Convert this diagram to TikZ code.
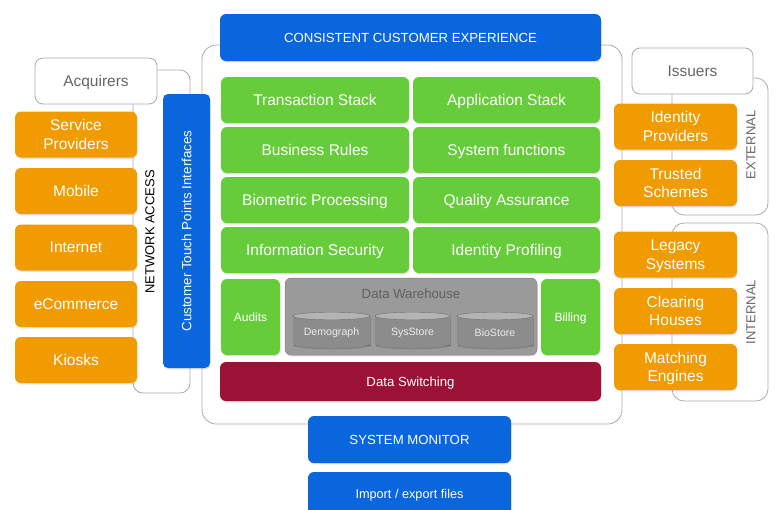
\documentclass[tikz,border=0pt]{standalone}
\usepackage{fontspec}
\setmainfont{Liberation Sans}
\usetikzlibrary{shadows}
\definecolor{grn}{HTML}{66CC3A}
\definecolor{org}{HTML}{F09B00}
\definecolor{blu}{HTML}{0A66DC}
\definecolor{dred}{HTML}{9B1236}
\definecolor{lgray}{HTML}{AAAAAA}
\definecolor{tgray}{HTML}{666666}
\definecolor{whs}{HTML}{9A9A9A}
\definecolor{cylb}{HTML}{8C8C8C}
\definecolor{cylt}{HTML}{B4B4B4}
\begin{document}
\begin{tikzpicture}[x=1pt,y=-1pt,
  shd/.style={drop shadow={shadow xshift=0.6pt,shadow yshift=-1.4pt,opacity=0.22}},
  base/.style={rounded corners=6pt, inner sep=0pt, align=center, text=white, text depth=0pt, shd},
  gbox/.style={base, fill=grn, font=\fontsize{15.5}{17}\selectfont},
  obox/.style={base, fill=org, font=\fontsize{15.5}{18.5}\selectfont, minimum width=122pt, minimum height=46pt},
  bbox/.style={base, fill=blu, font=\fontsize{13.2}{15}\selectfont},
  wbox/.style={rounded corners=8pt, draw=lgray, fill=white, text=tgray, line width=0.8pt, inner sep=0pt, text depth=0pt, font=\fontsize{15.5}{17}\selectfont},
  frm/.style={draw=lgray, line width=0.8pt, rounded corners=14pt, inner sep=0pt},
  vlab/.style={rotate=90, inner sep=0pt, font=\fontsize{13}{15}\selectfont},
  cyllab/.style={inner sep=0pt, text=white!92!black, font=\fontsize{10.6}{12}\selectfont},
]
\useasboundingbox (0,0) rectangle (775,509);

% frames
\node[frm, minimum width=420pt, minimum height=379pt] (outer) at (412,234.5) {};
\node[frm, minimum width=57pt, minimum height=323pt, rounded corners=10pt] (lbr) at (161.5,231.5) {};
\node[frm, minimum width=96pt, minimum height=137pt, rounded corners=12pt] (ext) at (720,146.5) {};
\node[frm, minimum width=96pt, minimum height=178pt, rounded corners=12pt] (int) at (720,312) {};

% top header
\node[bbox, minimum width=381pt, minimum height=47pt] (cce) at (410.5,37.5) {CONSISTENT CUSTOMER EXPERIENCE};

% green grid
\node[gbox, minimum width=188pt, minimum height=46pt] (ts) at (315,100) {Transaction Stack};
\node[gbox, minimum width=187pt, minimum height=46pt] (as) at (506.5,100) {Application Stack};
\node[gbox, minimum width=188pt, minimum height=46pt] (br) at (315,150) {Business Rules};
\node[gbox, minimum width=187pt, minimum height=46pt] (sf) at (506.5,150) {System functions};
\node[gbox, minimum width=188pt, minimum height=46pt] (bp) at (315,200) {Biometric Processing};
\node[gbox, minimum width=187pt, minimum height=46pt] (qa) at (506.5,200) {Quality Assurance};
\node[gbox, minimum width=188pt, minimum height=46pt] (is) at (315,250) {Information Security};
\node[gbox, minimum width=187pt, minimum height=46pt] (ip) at (506.5,250) {Identity Profiling};

% audits / warehouse / billing
\node[gbox, minimum width=59pt, minimum height=76pt, font=\fontsize{12}{14}\selectfont] (aud) at (250.5,317) {Audits};
\node[gbox, minimum width=59pt, minimum height=76pt, font=\fontsize{12}{14}\selectfont] (bil) at (570.5,317) {Billing};
\node[base, fill=whs, draw=whs!85!black, line width=0.5pt, minimum width=252pt, minimum height=77pt] (dw) at (411,316.5) {};
\node[inner sep=0pt, text=tgray!95!black, font=\fontsize{13.2}{15}\selectfont] (dwl) at (411,294) {Data Warehouse};

% cylinders
\foreach \cx/\w/\nm/\txt in {331.5/77/demo/Demograph, 412.5/75/sys/SysStore, 495/76/bio/BioStore}{
  \fill[black, opacity=0.15] (\cx-\w/2+0.8,317.5) rectangle (\cx+\w/2+0.8,345.5);
  \fill[black, opacity=0.15] (\cx+0.8,345.5) ellipse [x radius=\w/2, y radius=3.8];
  \fill[cylb] (\cx-\w/2,316) rectangle (\cx+\w/2,344);
  \fill[cylb] (\cx,344) ellipse [x radius=\w/2, y radius=3.8];
  \fill[cylt, draw=cylb!80!black, line width=0.4pt] (\cx,316) ellipse [x radius=\w/2, y radius=3.8];
  \node[cyllab] (\nm) at (\cx,332.5) {\txt};
}

% data switching
\node[base, fill=dred, minimum width=381pt, minimum height=39pt, font=\fontsize{13.2}{15}\selectfont] (dsw) at (410.5,381.5) {Data Switching};

% bottom
\node[bbox, minimum width=203pt, minimum height=47pt] (sm) at (409.5,439.5) {SYSTEM MONITOR};
\node[bbox, minimum width=203pt, minimum height=44pt, font=\fontsize{12.7}{15}\selectfont] (ie) at (409.5,494) {Import / export files};

% left side
\node[wbox, minimum width=122pt, minimum height=46pt] (acq) at (96,81) {Acquirers};
\node[obox] (sp) at (76,134.5) {Service\\Providers};
\node[obox] (mob) at (76,191) {Mobile};
\node[obox] (int1) at (76,247.5) {Internet};
\node[obox] (ecom) at (76,304) {eCommerce};
\node[obox] (kio) at (76,360) {Kiosks};
\node[vlab, text=black] (na) at (150,232) {NETWORK ACCESS};
\node[bbox, minimum width=47pt, minimum height=274pt, rounded corners=5pt] (ctpi) at (186.5,231) {};
\node[vlab, text=white, font=\fontsize{13.4}{15}\selectfont] (ctpil) at (ctpi.center) {Customer Touch Points Interfaces};

% right side
\node[wbox, minimum width=121pt, minimum height=46pt] (iss) at (692.5,71) {Issuers};
\node[obox, minimum width=123pt] (idp) at (675.5,126.5) {Identity\\Providers};
\node[obox, minimum width=123pt] (tsch) at (675.5,183) {Trusted\\Schemes};
\node[obox, minimum width=123pt] (leg) at (675.5,254.5) {Legacy\\Systems};
\node[obox, minimum width=123pt] (clh) at (675.5,311) {Clearing\\Houses};
\node[obox, minimum width=123pt] (mte) at (675.5,367) {Matching\\Engines};
\node[vlab, text=tgray] (extl) at (751,145) {EXTERNAL};
\node[vlab, text=tgray] (intl) at (751,312) {INTERNAL};
\end{tikzpicture}
\end{document}
